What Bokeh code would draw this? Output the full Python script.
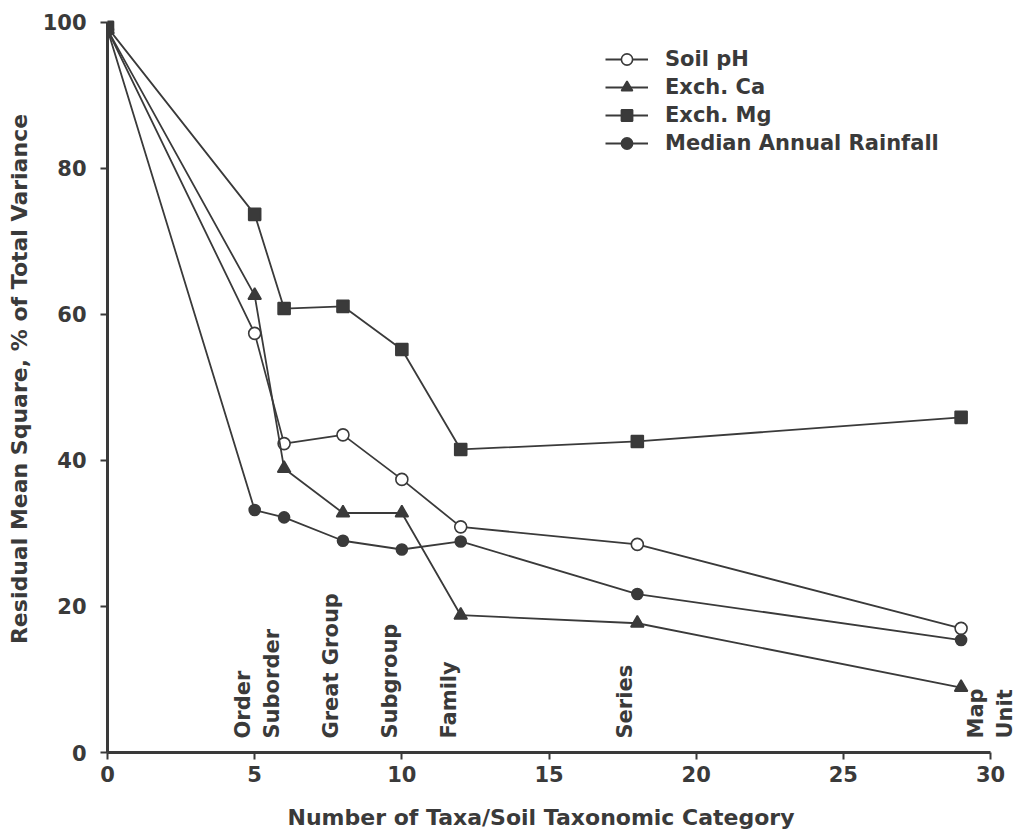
import numpy as np
from bokeh.plotting import figure
from bokeh.models import Range1d, Legend, LegendItem, FixedTicker, Title
from bokeh.core.properties import value
from bokeh.embed import file_html
from bokeh.resources import INLINE

# ---- data ----
taxa = [0, 5, 6, 8, 10, 12, 18, 29]
soil_ph = [99, 57.4, 42.3, 43.5, 37.4, 30.9, 28.5, 17.0]
exch_ca = [99, 62.6, 38.9, 32.8, 32.8, 18.8, 17.7, 8.9]
exch_mg = [99.3, 73.7, 60.8, 61.1, 55.2, 41.5, 42.6, 45.9]
rainfall = [99, 33.2, 32.2, 29.0, 27.8, 28.9, 21.7, 15.4]
series_names = ["Soil pH", "Exch. Ca", "Exch. Mg", "Median Annual Rainfall"]

category_labels = ["Order", "Suborder", "Great Group", "Subgroup", "Family", "Series", "Map\nUnit"]
category_taxa = [5, 6, 8, 10, 12, 18, 29]

x_ticks = [0, 5, 10, 15, 20, 25, 30]
y_ticks = [0, 20, 40, 60, 80, 100]

x_title = "Number of Taxa/Soil Taxonomic Category"
y_title = "Residual Mean Square, % of Total Variance"

# ---- style ----
INK = "#3a3a3a"
FONT = "DejaVu Sans"

p = figure(width=1018, height=833, output_backend="svg", toolbar_location=None,
           x_range=Range1d(0, 30.95), y_range=Range1d(0, 102.3),
           min_border_left=107, min_border_right=0, min_border_top=5, min_border_bottom=81,
           background_fill_color="white", border_fill_color="white")
p.outline_line_color = None
p.grid.visible = False

for ax in (p.xaxis[0], p.yaxis[0]):
    ax.axis_line_width = 3
    ax.axis_line_color = INK
    ax.major_tick_line_color = INK
    ax.major_tick_line_width = 2
    ax.major_tick_in = 0
    ax.major_tick_out = 7
    ax.minor_tick_line_color = None
    ax.major_label_text_font = FONT
    ax.major_label_text_font_style = "bold"
    ax.major_label_text_font_size = "21px"
    ax.major_label_text_color = INK
    ax.axis_label_text_font = FONT
    ax.axis_label_text_font_style = "bold"
    ax.axis_label_text_font_size = "22px"
    ax.axis_label_text_color = INK

p.xaxis.ticker = FixedTicker(ticks=x_ticks)
p.yaxis.ticker = FixedTicker(ticks=y_ticks)
p.xaxis.bounds = (0, 30)
p.yaxis.bounds = (0, 100)
p.xaxis.major_label_standoff = 6
p.yaxis.major_label_standoff = 14
p.yaxis.axis_label = y_title
p.yaxis.axis_label_standoff = 8
# blank spacer label under the x tick labels
p.xaxis.axis_label = " "
p.xaxis.axis_label_text_font_size = "10px"
p.xaxis.axis_label_standoff = 3

xt = Title(text=x_title, align="left", offset=180, standoff=2,
           text_font=FONT, text_font_style="bold", text_font_size="22px",
           text_color=INK)
p.add_layout(xt, "below")

series = [soil_ph, exch_ca, exch_mg, rainfall]
markers = ["circle", "triangle", "square", "circle"]
fills = ["white", INK, INK, INK]
sizes = [12, 13, 12, 11]

items = []
for name, ys, mk, fc, sz in zip(series_names, series, markers, fills, sizes):
    lr = p.line(taxa, ys, line_color=INK, line_width=1.8)
    sr = p.scatter(taxa, ys, marker=mk, size=sz, fill_color=fc, line_color=INK, line_width=1.6)
    items.append(LegendItem(label=name, renderers=[lr, sr]))

legend = Legend(items=items, location=(498, 595), padding=0, margin=0, spacing=0,
                label_height=28, glyph_height=28, glyph_width=43, label_standoff=17,
                border_line_alpha=0, background_fill_alpha=0,
                label_text_font=FONT, label_text_font_style="bold",
                label_text_font_size="21px", label_text_color=INK)
p.add_layout(legend)

x_offsets = [0] * (len(category_labels) - 1) + [56]
p.text(x=category_taxa, y=0, text=category_labels, angle=np.pi / 2,
       x_offset=x_offsets, y_offset=-14,
       text_align="left", text_baseline="bottom", text_line_height=1.2,
       text_font=value(FONT), text_font_style="bold", text_font_size="21px",
       text_color=INK)

open("out.html", "w").write(file_html(p, INLINE))
